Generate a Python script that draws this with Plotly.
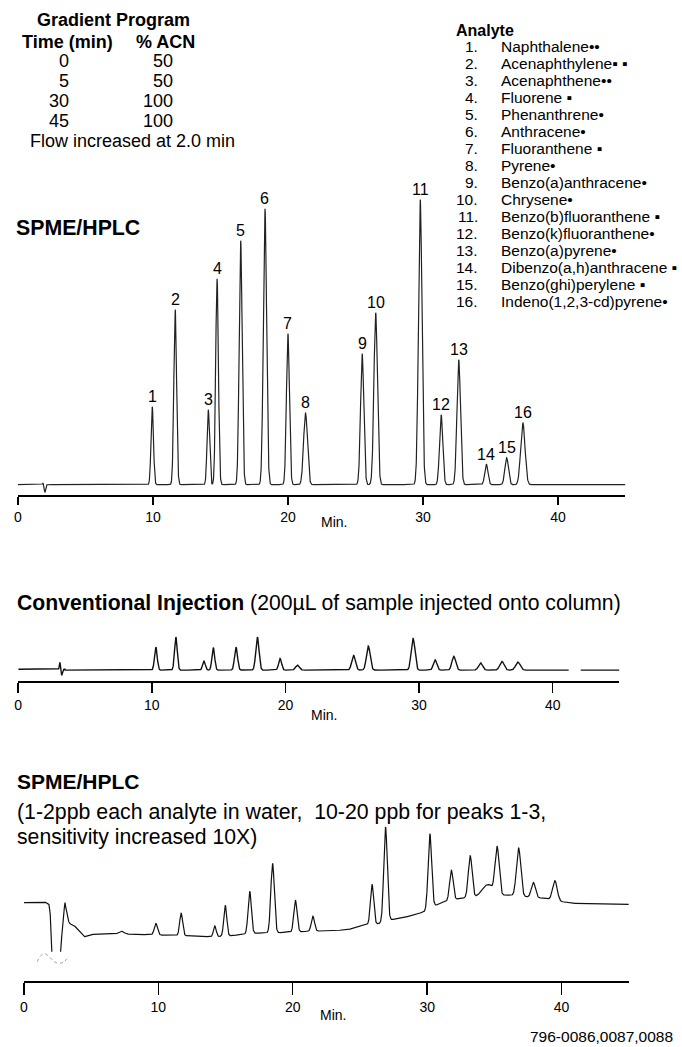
import numpy as np
import plotly.graph_objects as go

# ---------------- data ----------------
grad_time = ["0", "5", "30", "45"]
grad_acn = ["50", "50", "100", "100"]

peak_no = [str(i) for i in range(1, 17)]
analytes = ["Naphthalene", "Acenaphthylene", "Acenaphthene", "Fluorene", "Phenanthrene",
            "Anthracene", "Fluoranthene", "Pyrene", "Benzo(a)anthracene", "Chrysene",
            "Benzo(b)fluoranthene", "Benzo(k)fluoranthene", "Benzo(a)pyrene",
            "Dibenzo(a,h)anthracene", "Benzo(ghi)perylene", "Indeno(1,2,3-cd)pyrene"]
analyte_marks = ["••", "▪ ▪", "••", " ▪", "•", "•", " ▪", "•", "•", "•",
                 " ▪", "•", "•", " ▪", " ▪", "•"]

# Panel 1: SPME/HPLC (retention time in min, peak height, peak sigma)
spme_rt = [9.95, 11.65, 14.1, 14.75, 16.5, 18.3, 20.0, 21.3, 25.5, 26.5, 29.8, 31.35, 32.65, 34.7, 36.2, 37.4]
spme_h = [78, 175, 75, 206, 244, 276, 151, 72, 131, 172, 285, 70, 125, 20.5, 27, 62]
spme_sd = [0.09, 0.10, 0.09, 0.10, 0.11, 0.12, 0.11, 0.14, 0.12, 0.13, 0.13, 0.12, 0.13, 0.12, 0.13, 0.16]
spme_dist_rt = [1.85, 2.0]
spme_dist_h = [1.5, -7.7]

# Panel 2: conventional injection
conv_rt = [10.3, 11.8, 13.9, 14.6, 16.3, 17.9, 19.6, 20.9, 25.1, 26.2, 29.55, 31.2, 32.6, 34.6, 36.2, 37.4]
conv_h = [23, 33, 9, 22.5, 23, 33, 11.6, 5, 14.6, 24, 31.6, 10.3, 13.7, 7.3, 8.7, 8]
conv_sd = [0.10, 0.10, 0.10, 0.10, 0.11, 0.12, 0.11, 0.14, 0.14, 0.14, 0.14, 0.13, 0.14, 0.15, 0.16, 0.17]
conv_dist_rt = [3.12, 3.25]
conv_dist_h = [7, -6]

# Panel 3: SPME/HPLC trace, sensitivity x10
low_base_t = [0.0, 1.5, 1.85, 1.95, 2.07, 2.74, 2.9, 3.06, 3.25, 3.4, 3.7, 4.1, 4.5, 5.0, 8, 10, 12, 14, 15,
              17, 19, 20.5, 22, 24, 25.4, 26.4, 27.2, 28, 29, 29.8, 30.5, 31.3, 32.5, 34, 35.9, 37.3,
              38.7, 40, 41, 45]
low_base_v = [78, 79, 77, 70, 29, 29, 62, 78, 62, 57, 55.7, 50, 44, 46.4, 46.5, 45.7, 45, 44, 44.5,
              47.4, 48, 49, 49.7, 50.7, 55.7, 57, 60.7, 62.4, 65.7, 69, 74.7, 79, 82.4, 84, 85.7, 84,
              82.4, 79, 77.4, 76.4]
low_rt = [7.25, 9.82, 11.7, 14.2, 14.98, 16.8, 18.5, 20.2, 21.5, 25.9, 26.9, 30.2, 31.8, 33.2, 34.5,
          35.2, 36.8, 37.9, 39.5]
low_h = [3, 11.5, 22.4, 10.7, 31, 42.3, 69.4, 31.7, 15, 40, 94.4, 74.7, 30, 41.7, 11.7, 47, 48.3, 15, 19.7]
low_sd = [0.2, 0.12, 0.11, 0.1, 0.11, 0.12, 0.13, 0.12, 0.12, 0.12, 0.13, 0.13, 0.13, 0.14, 0.4,
          0.15, 0.16, 0.15, 0.17]
offscale_t = [1.0, 1.2, 1.5, 1.8, 2.1, 2.4, 2.7, 3.0, 3.2]
offscale_v = [19, 24, 27, 25, 21, 18, 17.5, 19, 22]

ticks = [0, 10, 20, 30, 40]

# ---------------- figure ----------------
W, H = 682, 1047
def px(x):
    return x / W
def py(y):
    return 1 - y / H

t = np.linspace(0, 45, 4501)

def peaks(rt, h, sd):
    s = np.zeros_like(t)
    for r, a, w in zip(rt, h, sd):
        s += a * np.exp(-0.5 * ((t - r) / w) ** 2)
    return s

sig1 = peaks(spme_rt, spme_h, spme_sd) + peaks(spme_dist_rt, spme_dist_h, [0.04, 0.05])
sig2 = peaks(conv_rt, conv_h, conv_sd) + peaks(conv_dist_rt, conv_dist_h, [0.04, 0.05])
sig2 = sig2 - 0.8 * (t > 3.5)
sig2[(t > 41.2) & (t < 42.1)] = np.nan
sig3 = np.interp(t, low_base_t, low_base_v) + peaks(low_rt, low_h, low_sd)
sig3[(t > 2.08) & (t < 2.73)] = np.nan

fig = go.Figure()
fig.add_trace(go.Scatter(x=t, y=sig1, mode="lines", line=dict(color="#222", width=1.2),
                         xaxis="x", yaxis="y", showlegend=False, hoverinfo="skip"))
fig.add_trace(go.Scatter(x=t, y=sig2, mode="lines", line=dict(color="#111", width=1.4),
                         xaxis="x2", yaxis="y2", showlegend=False, hoverinfo="skip"))
fig.add_trace(go.Scatter(x=t, y=sig3, mode="lines", line=dict(color="#111", width=1.2),
                         xaxis="x3", yaxis="y3", showlegend=False, hoverinfo="skip"))
fig.add_trace(go.Scatter(x=offscale_t, y=offscale_v, mode="lines",
                         line=dict(color="#999", width=1, dash="dot", shape="spline"),
                         xaxis="x3", yaxis="y3", showlegend=False, hoverinfo="skip"))

narrow = "Liberation Sans Narrow, Arial Narrow, Liberation Sans, Arial, sans-serif"
sans = "Liberation Sans, Arial, sans-serif"

def xax(domain, ticklen):
    return dict(domain=domain, range=[0, 45], showline=True, linecolor="black", linewidth=2,
                ticks="outside", ticklen=ticklen, tickwidth=1.5, tickcolor="black",
                tickvals=ticks, ticktext=[str(v) for v in ticks], showgrid=False, zeroline=False,
                tickfont=dict(family=narrow, size=14, color="black"), fixedrange=True)

def yax(domain, rng, anchor):
    return dict(domain=domain, range=rng, visible=False, fixedrange=True, anchor=anchor)

fig.update_layout(
    width=W, height=H, autosize=False, margin=dict(l=0, r=0, t=0, b=0),
    paper_bgcolor="white", plot_bgcolor="white", showlegend=False,
    xaxis=dict(xax([px(14), px(625.1)], 8), anchor="y"),
    yaxis=yax([py(495.3), py(170)], [-10.6, 314.7], "x"),
    xaxis2=dict(xax([px(14.3), px(619.1)], 10), anchor="y2"),
    yaxis2=yax([py(680.7), py(630)], [-11.4, 39.3], "x2"),
    xaxis3=dict(xax([px(20), px(628.5)], 12), anchor="y3"),
    yaxis3=yax([py(980.7), py(820)], [0, 160.7], "x3"),
)

ann = []
def text(x, y, s, size, family=sans, xanchor="left", bold=False, color="black"):
    if bold:
        s = "<b>" + s + "</b>"
    ann.append(dict(x=px(x), y=py(y), xref="paper", yref="paper", text=s, showarrow=False,
                    xanchor=xanchor, yanchor="middle", font=dict(family=family, size=size, color=color)))

# Gradient program table
text(110, 20, "Gradient Program", 18, xanchor="center", bold=True)
text(64, 41.7, "Time (min)", 18, xanchor="center", bold=True)
text(162, 41.7, "% ACN", 18, xanchor="center", bold=True)
for i, (tm, ac) in enumerate(zip(grad_time, grad_acn)):
    yy = 61 + i * 19.9
    text(67, yy, tm, 18, xanchor="right")
    text(172, yy, ac, 18, xanchor="right")
text(129, 140.7, "Flow increased at 2.0 min", 18, xanchor="center")

# Analyte list
text(452.7, 30, "Analyte", 16, bold=True)
for i, (n, a, m) in enumerate(zip(peak_no, analytes, analyte_marks)):
    yy = 46.7 + i * 17.0
    text(479.3, yy, n + ".", 15.5, xanchor="right")
    text(497.7, yy, a + m, 15.5)

# Panel titles
text(9.6, 228, "SPME/HPLC", 21.3, bold=True)
text(11, 603.3, "<b>Conventional Injection</b> (200µL of sample injected onto column)", 21.2)
text(11, 781.7, "SPME/HPLC", 21, bold=True)
text(11, 811.7, "(1-2ppb each analyte in water,  10-20 ppb for peaks 1-3,", 21.3)
text(11, 837.3, "sensitivity increased 10X)", 21.2)
text(675, 1036, "796-0086,0087,0088", 15.5, xanchor="right")

# "Min." axis names
text(332, 522, "Min.", 14, family=narrow, xanchor="center")
text(322, 715, "Min.", 14, family=narrow, xanchor="center")
text(331, 1015, "Min.", 14, family=narrow, xanchor="center")

# Peak labels in panel 1
for n, r, h in zip(peak_no, spme_rt, spme_h):
    ann.append(dict(x=r, y=h + 10, xref="x", yref="y", text=n, showarrow=False,
                    xanchor="center", yanchor="middle", font=dict(family=sans, size=16, color="black")))

fig.update_layout(annotations=ann)
fig.write_html("out.html",
               config={"displayModeBar": False, "staticPlot": True},
               post_script="document.body.style.margin='0';document.body.style.padding='0';"
                           "document.body.style.overflow='hidden';")
